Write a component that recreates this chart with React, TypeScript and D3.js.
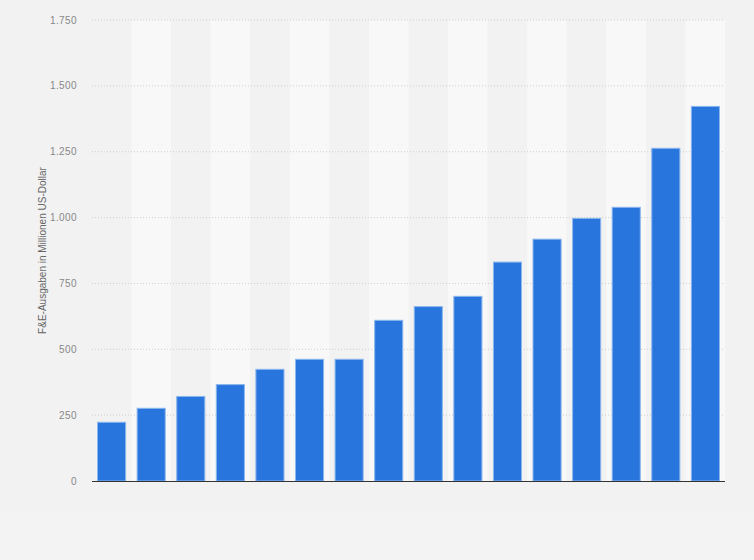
import React from "react";
import * as d3 from "d3";

const categories = ["1", "2", "3", "4", "5", "6", "7", "8", "9", "10", "11", "12", "13", "14", "15", "16"];
const values = [223, 276, 321, 366, 424, 462, 462, 610, 662, 701, 831, 918, 997, 1039, 1263, 1422];
const yTicks = [0, 250, 500, 750, 1000, 1250, 1500, 1750];
const yLabel = "F&E-Ausgaben in Millionen US-Dollar";

const W = 754;
const H = 560;
const left = 92;
const right = 725;
const top = 20;
const bottom = 481;

export default function App() {
  const x = d3.scaleBand<string>().domain(categories).range([left, right]).paddingInner(0.29).paddingOuter(0.14);
  const y = d3.scaleLinear().domain([0, 1750]).range([bottom, top]);
  const fmt = (v: number) => d3.format(",")(v).replace(/,/g, ".");
  const bandW = (right - left) / categories.length;

  return (
    <div style={{ position: "fixed", left: 0, top: 0 }}>
      <svg width={W} height={H} style={{ display: "block", fontFamily: "'Liberation Sans', Arial, sans-serif" }}>
        <rect x={0} y={0} width={W} height={H} fill="#f3f3f3" />
        <rect x={0} y={0} width={W} height={512} fill="#f2f2f2" />
        {categories.map((c, i) =>
          i % 2 === 1 ? (
            <rect key={"b" + c} x={left + i * bandW} y={top} width={bandW} height={bottom - top} fill="#f8f8f8" />
          ) : null
        )}
        {yTicks.map((t) => (
          <g key={"t" + t}>
            {t > 0 && (
              <line x1={left} x2={right - 1} y1={y(t)} y2={y(t)} stroke="#cfcfcf" strokeWidth={1} strokeDasharray="1,2" />
            )}
            <text x={77} y={y(t)} dy="0.35em" textAnchor="end" fontSize={10} letterSpacing={0.4} fill="#888">
              {fmt(t)}
            </text>
          </g>
        ))}
        {categories.map((c, i) => (
          <rect
            key={"bar" + c}
            x={x(c)!}
            y={y(values[i])}
            width={x.bandwidth()}
            height={bottom - y(values[i])}
            fill="#2876dd"
            stroke="#8cb6ee"
            strokeWidth={1}
          />
        ))}
        <line x1={left} x2={right} y1={bottom + 0.5} y2={bottom + 0.5} stroke="#333" strokeWidth={1} />
        <text
          transform={`translate(45.5, ${(top + bottom) / 2}) rotate(-90)`}
          textAnchor="middle"
          fontSize={10}
          fill="#666"
        >
          {yLabel}
        </text>
      </svg>
    </div>
  );
}
